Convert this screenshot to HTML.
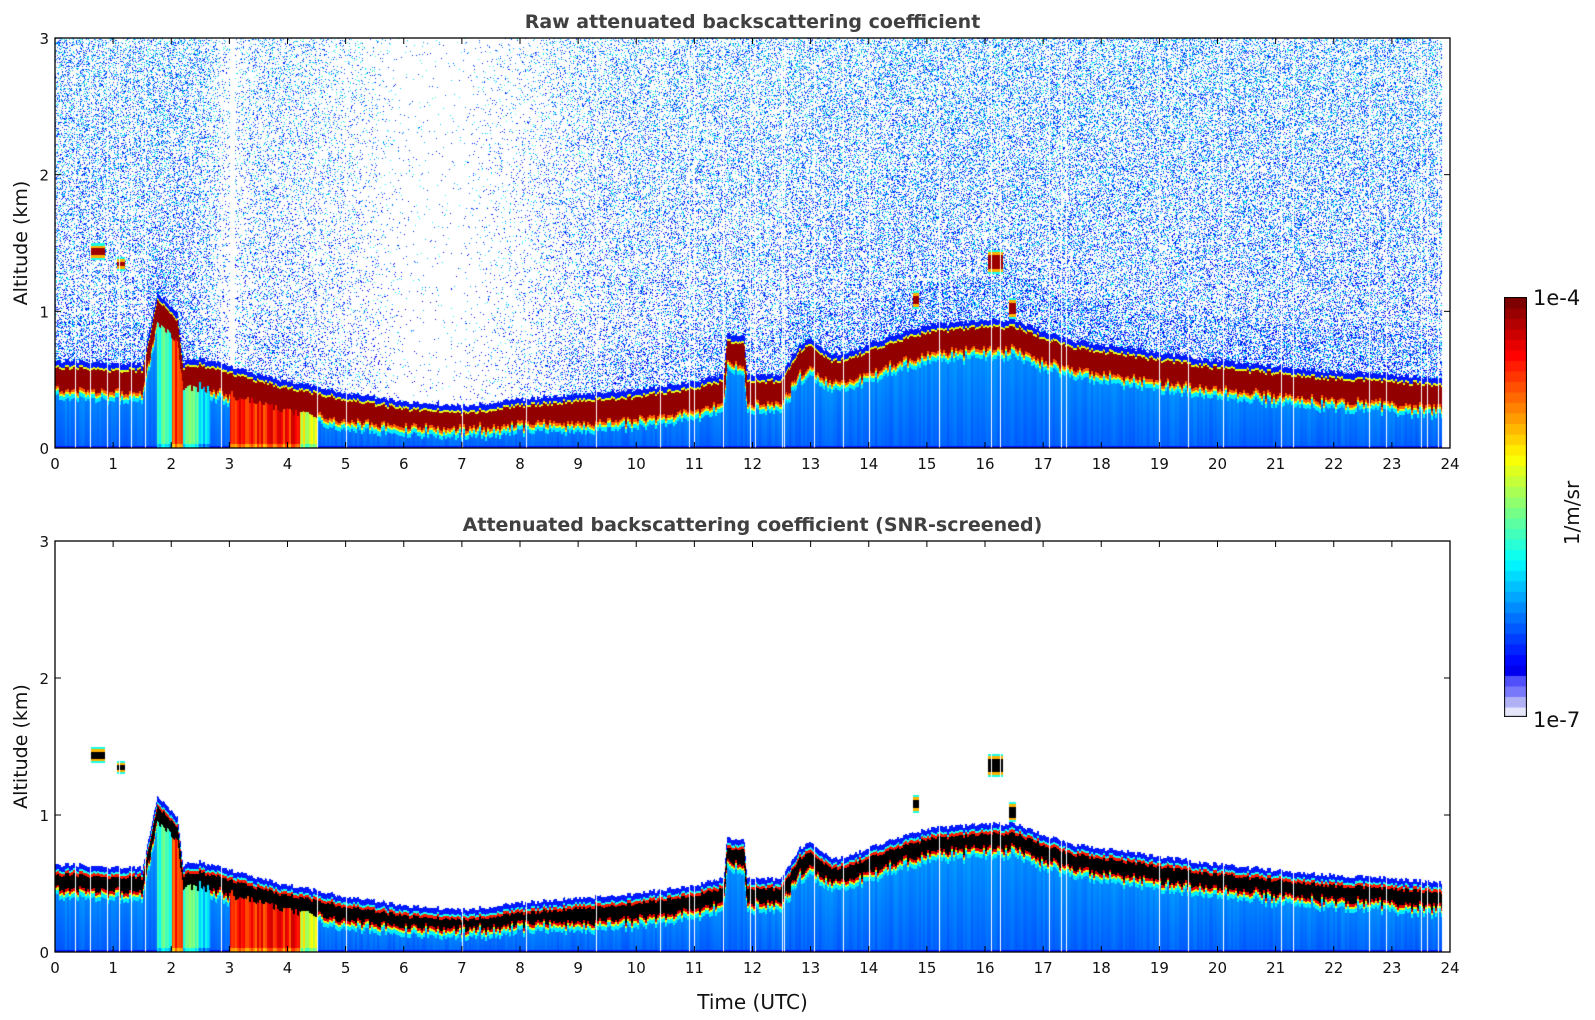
<!DOCTYPE html>
<html><head><meta charset="utf-8">
<style>
body{margin:0;background:#fff;width:1595px;height:1020px;overflow:hidden;position:relative;font-family:"DejaVu Sans","Liberation Sans",sans-serif}
canvas{position:absolute}
svg{position:absolute;left:0;top:0}
</style></head><body>
<canvas id="c1" width="1395" height="410" style="left:55px;top:38px"></canvas>
<canvas id="c2" width="1395" height="411" style="left:55px;top:541px"></canvas>
<canvas id="cb" width="23" height="420" style="left:1504px;top:297px"></canvas>
<svg id="ax" width="1595" height="1020"></svg>
<script>
const times=[0,0.5,1,1.5,1.75,2.1,2.2,2.5,3,3.5,4,4.5,5,6,7,8,9,10,11,11.5,11.55,11.85,11.9,12.5,12.8,13,13.3,13.5,14,14.5,15,16,16.5,17,17.5,18,19,20,21,22,23,23.8];
const layerTop=[0.6,0.6,0.58,0.58,1.1,0.95,0.6,0.62,0.56,0.5,0.45,0.41,0.37,0.3,0.27,0.32,0.36,0.39,0.45,0.5,0.8,0.78,0.5,0.5,0.72,0.76,0.66,0.65,0.72,0.8,0.86,0.9,0.9,0.82,0.75,0.72,0.66,0.6,0.56,0.52,0.5,0.47];
const noiseDensity=[0.55,0.55,0.55,0.55,0.55,0.55,0.55,0.5,0.2,0.35,0.35,0.3,0.2,0.03,0.03,0.15,0.35,0.45,0.5,0.5,0.5,0.5,0.5,0.5,0.55,0.55,0.55,0.55,0.55,0.6,0.6,0.6,0.6,0.6,0.6,0.6,0.6,0.6,0.6,0.6,0.6,0.6];
const cloudStart=[0.6,1.05,14.75,16.05,16.4];
const cloudEnd=[0.85,1.2,14.85,16.3,16.52];
const cloudBase=[1.38,1.3,1.02,1.28,0.95];
const cloudTopAlt=[1.5,1.4,1.15,1.45,1.1];
const plumeStart=[1.75,2.0,2.2,2.45,3.0,4.2];
const plumeEnd=[2.0,2.2,2.45,2.65,4.2,4.5];
const plumeLevel=[0.42,0.82,0.45,0.35,0.85,0.6];
const gapTimes=[0.35,0.6,0.9,1.1,1.3,1.55,2.85,4.5,5.0,7.0,8.1,9.3,10.4,10.9,11.0,11.5,11.95,12.05,12.5,12.55,13.05,13.55,14.0,15.2,16.1,16.25,17.1,17.3,17.4,19.0,19.5,20.1,21.1,21.3,22.6,22.9,23.5,23.6,23.8];
const xTicks=[...Array(25).keys()];
const yTicks=[0,1,2,3];

const X0=55,X1=1450,W=X1-X0;
function xs(t){return t/24*W;}
function interp(arr,t){for(let i=0;i<times.length-1;i++){if(t<=times[i+1]){const f=(t-times[i])/(times[i+1]-times[i]);return arr[i]+f*(arr[i+1]-arr[i]);}}return arr[arr.length-1];}
function jet(v){
 v=Math.max(0,Math.min(1,v));
 const r=Math.max(0,Math.min(1,1.5-Math.abs(4*v-3))),g=Math.max(0,Math.min(1,1.5-Math.abs(4*v-2))),b=Math.max(0,Math.min(1,1.5-Math.abs(4*v-1)));
 return [r*255|0,g*255|0,b*255|0];
}
function hash(a,b){let h=(a*374761393+b*668265263)|0;h=(h^(h>>>13))*1274126177|0;return ((h^(h>>>16))>>>0)/4294967296;}
function render(id,H,snr){
 const c=document.getElementById(id),ctx=c.getContext('2d');
 const img=ctx.createImageData(W,H),d=img.data;
 const gapPx=gapTimes.map(t=>Math.round(xs(t)));
 for(let x=0;x<W;x++){
  const t=x/W*24;
  const gap=gapPx.includes(x)||t>23.85;
  const hole=!snr&&t>3.0&&t<3.08;
  const h=interp(layerTop,t),nd=interp(noiseDensity,t);
  const jit=(hash(x>>1,7)-0.5)*0.03;
  const jitB=(hash(x>>1,11)-0.5)*0.05;
  const thick=Math.min(0.17,0.45*h)*(snr?0.8:1);
  let plume=-1;
  for(let k=0;k<plumeStart.length;k++) if(t>=plumeStart[k]&&t<plumeEnd[k]) plume=plumeLevel[k]+(hash(x>>1,3)-0.5)*0.15;
  for(let y=0;y<H;y++){
   const a=(H-y)/H*3;
   let col=[255,255,255];
   if(!gap){
    let v=-1;
    const top=h+jit, rb=top-thick+jitB;
    if(a<top){
     if(a>top-0.015) v=snr?0.4:0.6;
     else if(snr&&a>top-0.035) v=0.85;
     else if(a>rb) v=snr?2:0.98;
     else if(a>rb-0.02) v=snr?0.9:0.78;
     else if(a>rb-0.035) v=0.6;
     else if(a>rb-0.065) v=0.36;
     else v=0.22+0.06*(a/top)+(hash(x>>1,5)-0.5)*0.03;
     if(a<0.02) v=0.15;
     if(plume>=0&&a<rb) v=plume+(a<0.03?-0.1:0);
    } else if(a<top+0.04){ v=0.15; }
    for(let k=0;k<cloudStart.length;k++){
     if(t>=cloudStart[k]&&t<=cloudEnd[k]&&a>=cloudBase[k]&&a<=cloudTopAlt[k]){
      const m=Math.min(a-cloudBase[k],cloudTopAlt[k]-a);
      v=m>0.035?(snr?2:0.97):(m>0.015?0.7:0.4);
     }
    }
    if(v<0&&!snr&&!hole){
     let p=nd*(a<top+0.35?1.4:1);
     const r=hash(x,y);
     if(r<p*0.5){const q=hash(y,x);v=0.1+0.3*q*q+0.06*(a/3);}
    }
    if(v===2) col=[0,0,0]; else if(v>=0) col=jet(v);
   }
   const i=(y*W+x)*4;d[i]=col[0];d[i+1]=col[1];d[i+2]=col[2];d[i+3]=255;
  }
 }
 ctx.putImageData(img,0,0);
}
render('c1',410,false);
render('c2',411,true);
(function(){const c=document.getElementById('cb'),ctx=c.getContext('2d');const n=40;
 for(let i=0;i<n;i++){const cc=i<4?[[230,230,250],[176,176,245],[120,120,250],[80,80,250]][i]:jet(0.11+(i-4)/(n-5)*0.89);ctx.fillStyle=`rgb(${cc[0]},${cc[1]},${cc[2]})`;ctx.fillRect(0,420-(i+1)*420/n,23,420/n+1);}
 ctx.strokeStyle='#000';ctx.strokeRect(0.5,0.5,22,419);})();

const svg=document.getElementById('ax');const NS='http://www.w3.org/2000/svg';
function el(tag,attrs,text){const e=document.createElementNS(NS,tag);for(const k in attrs)e.setAttribute(k,attrs[k]);if(text!==undefined)e.textContent=text;svg.appendChild(e);return e;}
function panel(top,bottom,title,name){
 const H=bottom-top;
 const r=el('rect',{x:X0,y:top,width:W,height:H,fill:'none',stroke:'#000','stroke-width':1.3});
 
 const tt=el('text',{x:(X0+X1)/2,y:top-10,'text-anchor':'middle','font-size':'19','font-weight':'bold',fill:'#404040'},title);
 
 xTicks.forEach(t=>{const x=X0+xs(t);
  el('line',{x1:x,x2:x,y1:bottom,y2:bottom-6,stroke:'#000'});el('line',{x1:x,x2:x,y1:top,y2:top+6,stroke:'#000'});
  const l=el('text',{x:x,y:bottom+21,'text-anchor':'middle','font-size':'15',fill:'#111'},String(t));
  });
 yTicks.forEach(v=>{const y=bottom-v/3*H;
  el('line',{x1:X0,x2:X0+6,y1:y,y2:y,stroke:'#000'});el('line',{x1:X1,x2:X1-6,y1:y,y2:y,stroke:'#000'});
  const l=el('text',{x:X0-6,y:y+6,'text-anchor':'end','font-size':'15',fill:'#111'},String(v));
  });
 const yl=el('text',{x:0,y:0,transform:`translate(27,${(top+bottom)/2}) rotate(-90)`,'text-anchor':'middle','font-size':'19',fill:'#111'},'Altitude (km)');
 
}
panel(38,448,'Raw attenuated backscattering coefficient','raw-panel');
panel(541,952,'Attenuated backscattering coefficient (SNR-screened)','snr-panel');
const xt=el('text',{x:(X0+X1)/2,y:1009,'text-anchor':'middle','font-size':'20',fill:'#111'},'Time (UTC)');

const c1=el('text',{x:1533,y:305,'font-size':'21',fill:'#111'},'1e-4');

const c2=el('text',{x:1533,y:727,'font-size':'21',fill:'#111'},'1e-7');

const cu=el('text',{x:0,y:0,transform:'translate(1579,513) rotate(-90)','text-anchor':'middle','font-size':'20',fill:'#111'},'1/m/sr');

</script>
</body></html>
